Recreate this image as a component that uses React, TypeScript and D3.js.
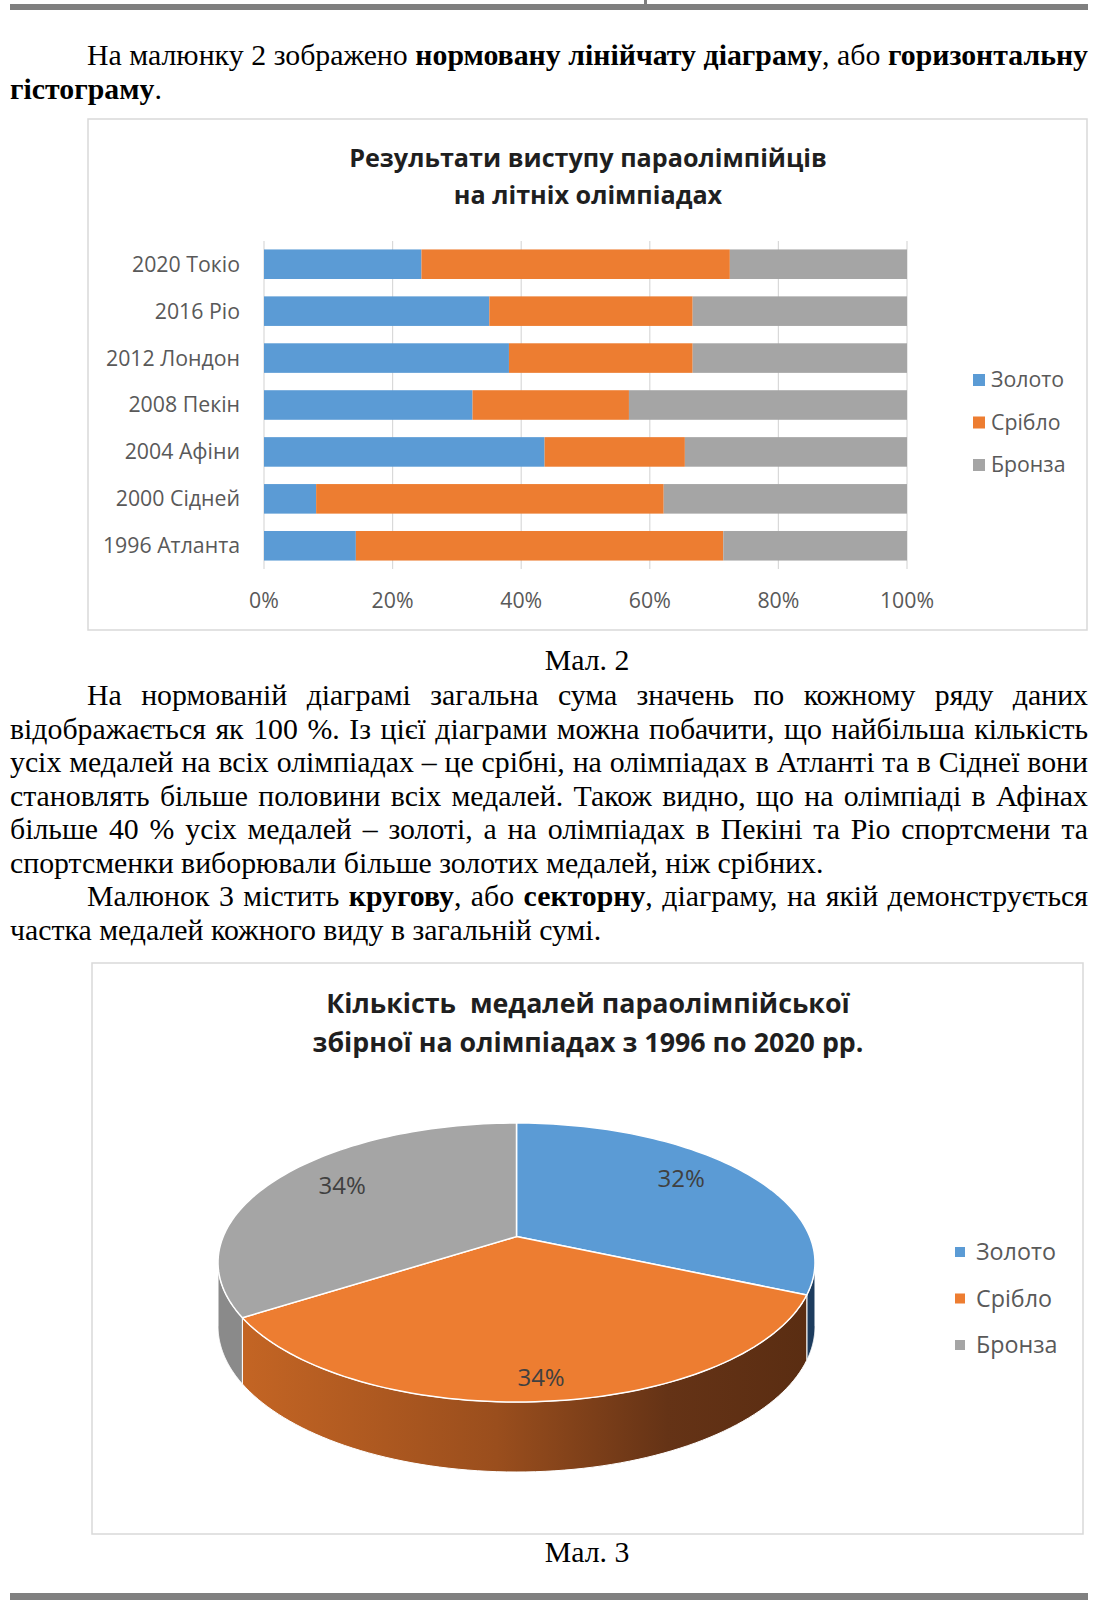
import React, { useEffect, useRef } from 'react';
import * as d3 from 'd3';

// ---------- DATA ----------
const categories = ['2020 Токіо', '2016 Ріо', '2012 Лондон', '2008 Пекін', '2004 Афіни', '2000 Сідней', '1996 Атланта'];
const goldValues = [24, 41, 32, 24, 24, 3, 1];
const silverValues = [47, 37, 24, 18, 12, 20, 4];
const bronzeValues = [27, 39, 28, 32, 19, 14, 2];
const seriesNames = ['Золото', 'Срібло', 'Бронза'];
const seriesColors = ['#5B9BD5', '#ED7D31', '#A5A5A5'];
const xTicks = [0, 0.2, 0.4, 0.6, 0.8, 1];
const pieValues = [149, 162, 161];
const barTitle = ['Результати виступу параолімпійців', 'на літніх олімпіадах'];
const pieTitle = ['Кількість  медалей параолімпійської', 'збірної на олімпіадах з 1996 по 2020 рр.'];

type Seg = [string, boolean];
const textLines: { y: number; indent: boolean; justify: boolean; segs: Seg[] }[] = [
  { y: 65, indent: true, justify: true, segs: [['На малюнку 2 зображено ', false], ['нормовану лінійчату діаграму', true], [', або ', false], ['горизонтальну', true]] },
  { y: 99, indent: false, justify: false, segs: [['гістограму', true], ['.', false]] },
  { y: 705, indent: true, justify: true, segs: [['На нормованій діаграмі загальна сума значень по кожному ряду даних', false]] },
  { y: 738.5, indent: false, justify: true, segs: [['відображається як 100 %. Із цієї діаграми можна побачити, що найбільша кількість', false]] },
  { y: 772, indent: false, justify: true, segs: [['усіх медалей на всіх олімпіадах – це срібні, на олімпіадах в Атланті та в Сіднеї вони', false]] },
  { y: 805.5, indent: false, justify: true, segs: [['становлять більше половини всіх медалей. Також видно, що на олімпіаді в Афінах', false]] },
  { y: 839, indent: false, justify: true, segs: [['більше 40 % усіх медалей – золоті, а на олімпіадах в Пекіні та Ріо спортсмени та', false]] },
  { y: 872.5, indent: false, justify: false, segs: [['спортсменки виборювали більше золотих медалей, ніж срібних.', false]] },
  { y: 906, indent: true, justify: true, segs: [['Малюнок 3 містить ', false], ['кругову', true], [', або ', false], ['секторну', true], [', діаграму, на якій демонструється', false]] },
  { y: 939.5, indent: false, justify: false, segs: [['частка медалей кожного виду в загальній сумі.', false]] },
];
const captions = [{ text: 'Мал. 2', y: 670 }, { text: 'Мал. 3', y: 1562 }];

const SERIF = '"Liberation Serif", "Times New Roman", serif';
const SANS = '"Open Sans", "Noto Sans", sans-serif';
const FS = 29.8;

export default function App() {
  const ref = useRef<SVGSVGElement>(null);

  useEffect(() => {
    const svg = d3.select(ref.current);
    svg.selectAll('*').remove();

    // page decorations
    svg.append('rect').attr('x', 10).attr('y', 4).attr('width', 1078).attr('height', 6).attr('fill', '#7f7f7f');
    svg.append('rect').attr('x', 644).attr('y', 0).attr('width', 3).attr('height', 5).attr('fill', '#7f7f7f');
    svg.append('rect').attr('x', 10).attr('y', 1593).attr('width', 1078).attr('height', 7).attr('fill', '#808080');

    // ---------- body text ----------
    const canvas = document.createElement('canvas');
    const ctx = canvas.getContext('2d')!;
    const measure = (t: string, b: boolean) => {
      ctx.font = `${b ? 'bold ' : ''}${FS}px ${SERIF}`;
      return ctx.measureText(t).width;
    };
    const LEFT = 10, RIGHT = 1088, INDENT = 87;
    const tg = svg.append('g').attr('font-family', SERIF).attr('font-size', FS).attr('fill', '#000');
    textLines.forEach((line) => {
      const tokens: Seg[][] = [];
      let cur: Seg[] = [];
      line.segs.forEach(([txt, b]) => {
        txt.split(' ').forEach((part, i) => {
          if (i > 0) { if (cur.length) tokens.push(cur); cur = []; }
          if (part) cur.push([part, b]);
        });
      });
      if (cur.length) tokens.push(cur);
      const widths = tokens.map((tk) => d3.sum(tk, ([t, b]) => measure(t, b)));
      const startX = line.indent ? INDENT : LEFT;
      const gap = line.justify && tokens.length > 1
        ? (RIGHT - startX - d3.sum(widths)) / (tokens.length - 1)
        : measure(' ', false);
      let xPos = startX;
      tokens.forEach((tk, i) => {
        const t = tg.append('text').attr('x', xPos).attr('y', line.y);
        tk.forEach(([s, b]) => t.append('tspan').attr('font-weight', b ? 'bold' : 'normal').text(s));
        xPos += widths[i] + gap;
      });
    });
    captions.forEach((c) => {
      tg.append('text').attr('x', 587).attr('y', c.y).attr('text-anchor', 'middle').text(c.text);
    });

    // ---------- bar chart ----------
    const bg = svg.append('g');
    bg.append('rect').attr('x', 88).attr('y', 119).attr('width', 999).attr('height', 511)
      .attr('fill', '#fff').attr('stroke', '#d9d9d9').attr('stroke-width', 1.5);
    barTitle.forEach((t, i) => {
      bg.append('text').attr('x', 588).attr('y', 167 + i * 37).attr('text-anchor', 'middle')
        .attr('font-family', SANS).attr('font-weight', 'bold').attr('font-size', 25.2).attr('fill', '#1f1f1f').text(t);
    });
    const x = d3.scaleLinear().domain([0, 1]).range([264, 907]);
    const y = d3.scaleBand<string>().domain(categories).range([241, 569]).paddingInner(0.37).paddingOuter(0.18);
    xTicks.forEach((t) => {
      bg.append('line').attr('x1', x(t)).attr('x2', x(t)).attr('y1', 241).attr('y2', 569)
        .attr('stroke', '#d9d9d9').attr('stroke-width', 1.2);
      bg.append('text').attr('x', x(t)).attr('y', 601).attr('dy', '0.35em').attr('text-anchor', 'middle')
        .attr('font-family', SANS).attr('font-size', 21.3).attr('fill', '#595959').text(d3.format('.0%')(t));
    });
    const rows = categories.map((c, i) => ({ cat: c, g: goldValues[i], s: silverValues[i], b: bronzeValues[i] }));
    const stack = d3.stack<any>().keys(['g', 's', 'b']).offset(d3.stackOffsetExpand)(rows);
    stack.forEach((layer, li) => {
      layer.forEach((d: any) => {
        bg.append('rect').attr('x', x(d[0])).attr('width', x(d[1]) - x(d[0]))
          .attr('y', y(d.data.cat)!).attr('height', y.bandwidth()).attr('fill', seriesColors[li]);
      });
    });
    categories.forEach((c) => {
      bg.append('text').attr('x', 240).attr('y', y(c)! + y.bandwidth() / 2).attr('dy', '0.35em')
        .attr('text-anchor', 'end').attr('font-family', SANS).attr('font-size', 21.3).attr('fill', '#595959').text(c);
    });
    seriesNames.forEach((n, i) => {
      const cy = 380 + i * 42.5;
      bg.append('rect').attr('x', 973).attr('y', cy - 6).attr('width', 12).attr('height', 12).attr('fill', seriesColors[i]);
      bg.append('text').attr('x', 991).attr('y', cy).attr('dy', '0.35em')
        .attr('font-family', SANS).attr('font-size', 21.3).attr('fill', '#595959').text(n);
    });

    // ---------- 3D pie chart ----------
    const pg = svg.append('g');
    pg.append('rect').attr('x', 92).attr('y', 963).attr('width', 991).attr('height', 571)
      .attr('fill', '#fff').attr('stroke', '#d9d9d9').attr('stroke-width', 1.5);
    pieTitle.forEach((t, i) => {
      pg.append('text').attr('x', 588).attr('y', 1013 + i * 39).attr('text-anchor', 'middle').attr('xml:space', 'preserve')
        .attr('font-family', SANS).attr('font-weight', 'bold').attr('font-size', 26.8).attr('fill', '#1f1f1f').text(t);
    });
    const pcx = 516.5, pcy = 1236.6, PRx = 293.3, PRy = 134.7, E = 0.1857, H = 62.5;
    const proj = (phi: number, r = 1): [number, number, number] => {
      const near = -r * Math.cos(phi);
      const p = 1 / (1 - E * near);
      return [pcx + PRx * r * Math.sin(phi) * p, pcy + PRy * near * p, p];
    };
    const projB = (phi: number): [number, number] => {
      const [px, py, p] = proj(phi);
      return [px, py + H * Math.pow(p, 0.55)];
    };
    const arcs = d3.pie<number>().sort(null)(pieValues);
    const phi1 = Math.acos(-E), phi2 = 2 * Math.PI - phi1;
    const defs = svg.append('defs');
    const grad = defs.append('linearGradient').attr('id', 'orSide').attr('gradientUnits', 'userSpaceOnUse')
      .attr('x1', 240).attr('x2', 810).attr('y1', 0).attr('y2', 0);
    [['0', '#c46524'], ['0.45', '#9a4e1d'], ['0.75', '#653316'], ['1', '#5a2d12']].forEach(([o, c]) =>
      grad.append('stop').attr('offset', o).attr('stop-color', c));
    const sideFills = ['#1d3c5e', 'url(#orSide)', '#8a8a8a'];
    const line = d3.line();
    const sample = (a: number, b: number, f: (p: number) => [number, number]) =>
      d3.range(0, 81).map((k) => f(a + (b - a) * (k / 80)));
    arcs.forEach((a, i) => {
      const s = Math.max(a.startAngle, phi1), t = Math.min(a.endAngle, phi2);
      if (s < t) {
        const pts = [...sample(s, t, (p) => { const q = proj(p); return [q[0], q[1]]; }), ...sample(t, s, projB)];
        pg.append('path').attr('d', line(pts as any) + 'Z').attr('fill', sideFills[i])
          .attr('stroke', '#ffffff').attr('stroke-width', 1).attr('stroke-linejoin', 'round');
      }
    });
    arcs.forEach((a, i) => {
      const pts: [number, number][] = [[pcx, pcy], ...sample(a.startAngle, a.endAngle, (p) => { const q = proj(p); return [q[0], q[1]]; })];
      pg.append('path').attr('d', line(pts) + 'Z').attr('fill', seriesColors[i])
        .attr('stroke', '#ffffff').attr('stroke-width', 1.5).attr('stroke-linejoin', 'round');
    });
    const total = d3.sum(pieValues);
    arcs.forEach((a) => {
      const mid = (a.startAngle + a.endAngle) / 2;
      const nd = -Math.cos(mid);
      const r = 0.72 + 0.16 * Math.max(0, nd);
      const [lx, ly0] = proj(mid, r);
      const ly = ly0 + (nd < 0 ? 15 * nd : 0);
      pg.append('text').attr('x', lx).attr('y', ly).attr('dy', '0.35em').attr('text-anchor', 'middle')
        .attr('font-family', SANS).attr('font-size', 24).attr('fill', '#404040')
        .text(d3.format('.0%')(a.value / total));
    });
    seriesNames.forEach((n, i) => {
      const cy = 1252 + i * 46.5;
      pg.append('rect').attr('x', 955).attr('y', cy - 5).attr('width', 10).attr('height', 10).attr('fill', seriesColors[i]);
      pg.append('text').attr('x', 976).attr('y', cy).attr('dy', '0.35em')
        .attr('font-family', SANS).attr('font-size', 23.3).attr('fill', '#595959').text(n);
    });
  }, []);

  return (
    <svg ref={ref} width={1093} height={1600}
      style={{ position: 'absolute', left: 0, top: 0, background: '#fff', display: 'block' }} />
  );
}
